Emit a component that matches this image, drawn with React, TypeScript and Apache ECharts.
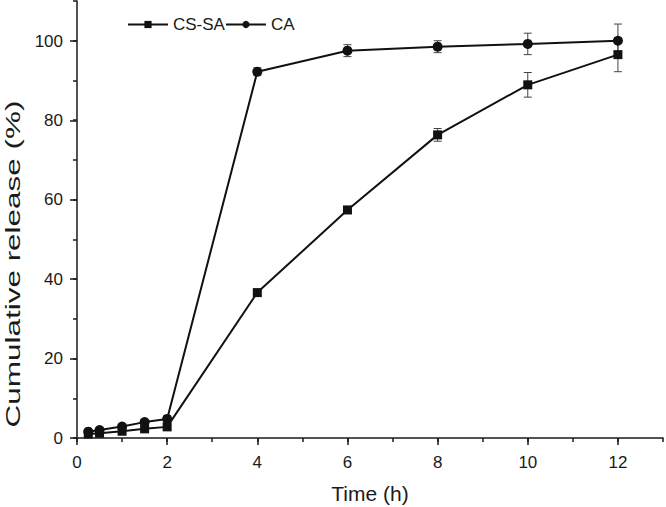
import React, { useEffect, useRef } from "react";
import * as echarts from "echarts";

const times = [0.25, 0.5, 1, 1.5, 2, 4, 6, 8, 10, 12];
const csSa = [1.0, 1.2, 1.7, 2.3, 2.8, 36.6, 57.4, 76.3, 88.9, 96.5];
const csSaErr = [0.3, 0.3, 0.4, 0.5, 0.6, 0.8, 0.9, 1.6, 3.1, 4.3];
const ca = [1.6, 2.0, 2.9, 4.0, 4.8, 92.2, 97.5, 98.5, 99.2, 100.0];
const caErr = [0.3, 0.3, 0.5, 0.6, 0.8, 1.0, 1.5, 1.5, 2.7, 4.2];
const seriesNames = ["CS-SA", "CA"];
const xTitle = "Time (h)";
const yTitle = "Cumulative release (%)";

const FONT = "'Liberation Sans', Arial, sans-serif";
const INK = "#1a1a1a";

export default function App() {
  const ref = useRef<HTMLDivElement>(null);
  useEffect(() => {
    if (!ref.current) return;
    const chart = echarts.init(ref.current, null, { renderer: "svg" });
    const errData = (vals: number[], errs: number[]) =>
      times.map((t, i) => [t, vals[i] - errs[i], vals[i] + errs[i]]);
    const errRender = (params: any, api: any) => {
      const x = api.value(0);
      const lo = api.coord([x, api.value(1)]);
      const hi = api.coord([x, api.value(2)]);
      const w = 4;
      const style = { stroke: "#444", lineWidth: 1 };
      return {
        type: "group",
        children: [
          { type: "line", shape: { x1: lo[0], y1: lo[1], x2: hi[0], y2: hi[1] }, style },
          { type: "line", shape: { x1: lo[0] - w, y1: lo[1], x2: lo[0] + w, y2: lo[1] }, style },
          { type: "line", shape: { x1: hi[0] - w, y1: hi[1], x2: hi[0] + w, y2: hi[1] }, style },
        ],
      };
    };
    const axisLabelStyle = { fontSize: 17, color: INK, fontFamily: FONT };
    chart.setOption({
      animation: false,
      backgroundColor: "#ffffff",
      grid: [
        { left: 77, top: 1, width: 586, height: 437 },
        { left: 77, top: 41, width: 541, height: 397 },
      ],
      xAxis: [
        {
          gridIndex: 0, type: "value", min: 0, max: 13, interval: 1,
          axisLine: { show: true, onZero: false, lineStyle: { color: INK, width: 1.5 } },
          axisTick: { show: true, length: 4, lineStyle: { color: INK, width: 1.5 } },
          axisLabel: { show: false }, splitLine: { show: false },
        },
        {
          gridIndex: 1, type: "value", min: 0, max: 12, interval: 2,
          axisLine: { show: false, onZero: false },
          axisTick: { show: true, length: 7, lineStyle: { color: INK, width: 1.5 } },
          axisLabel: { ...axisLabelStyle, margin: 16 }, splitLine: { show: false },
        },
      ],
      yAxis: [
        {
          gridIndex: 0, type: "value", min: 0, max: 110, interval: 10,
          axisLine: { show: true, onZero: false, lineStyle: { color: INK, width: 1.5 } },
          axisTick: { show: true, length: 4, lineStyle: { color: INK, width: 1.5 } },
          axisLabel: { show: false }, splitLine: { show: false },
        },
        {
          gridIndex: 1, type: "value", min: 0, max: 100, interval: 20,
          axisLine: { show: false, onZero: false },
          axisTick: { show: true, length: 7, lineStyle: { color: INK, width: 1.5 } },
          axisLabel: { ...axisLabelStyle, margin: 14 }, splitLine: { show: false },
        },
      ],
      legend: {
        data: seriesNames,
        left: 122, top: 11,
        itemWidth: 40, itemHeight: 9, itemGap: 0,
        textStyle: { fontSize: 17, color: INK, fontFamily: FONT },
      },
      graphic: [
        {
          type: "text", x: 370, y: 493,
          style: { text: xTitle, fontSize: 21, fill: INK, fontFamily: FONT, align: "center", verticalAlign: "middle" },
        },
        {
          type: "text", x: 13, y: 264, rotation: Math.PI / 2, scaleX: 1.5,
          style: { text: yTitle, fontSize: 21, fill: INK, fontFamily: FONT, align: "center", verticalAlign: "middle" },
        },
      ],
      series: [
        {
          type: "custom", name: "errCS", xAxisIndex: 0, yAxisIndex: 0,
          renderItem: errRender, data: errData(csSa, csSaErr), z: 1, silent: true,
        },
        {
          type: "custom", name: "errCA", xAxisIndex: 0, yAxisIndex: 0,
          renderItem: errRender, data: errData(ca, caErr), z: 1, silent: true,
        },
        {
          type: "line", name: seriesNames[0], xAxisIndex: 0, yAxisIndex: 0,
          data: times.map((t, i) => [t, csSa[i]]),
          symbol: "rect", symbolSize: 9, color: "#111",
          lineStyle: { color: "#111", width: 2 }, itemStyle: { color: "#111" }, z: 3,
        },
        {
          type: "line", name: seriesNames[1], xAxisIndex: 0, yAxisIndex: 0,
          data: times.map((t, i) => [t, ca[i]]),
          symbol: "circle", symbolSize: 10, color: "#111",
          lineStyle: { color: "#111", width: 2 }, itemStyle: { color: "#111" }, z: 3,
        },
      ],
    });
    return () => chart.dispose();
  }, []);
  return (
    <div
      ref={ref}
      style={{ position: "fixed", left: 0, top: 0, width: 666, height: 507, background: "#fff" }}
    />
  );
}
